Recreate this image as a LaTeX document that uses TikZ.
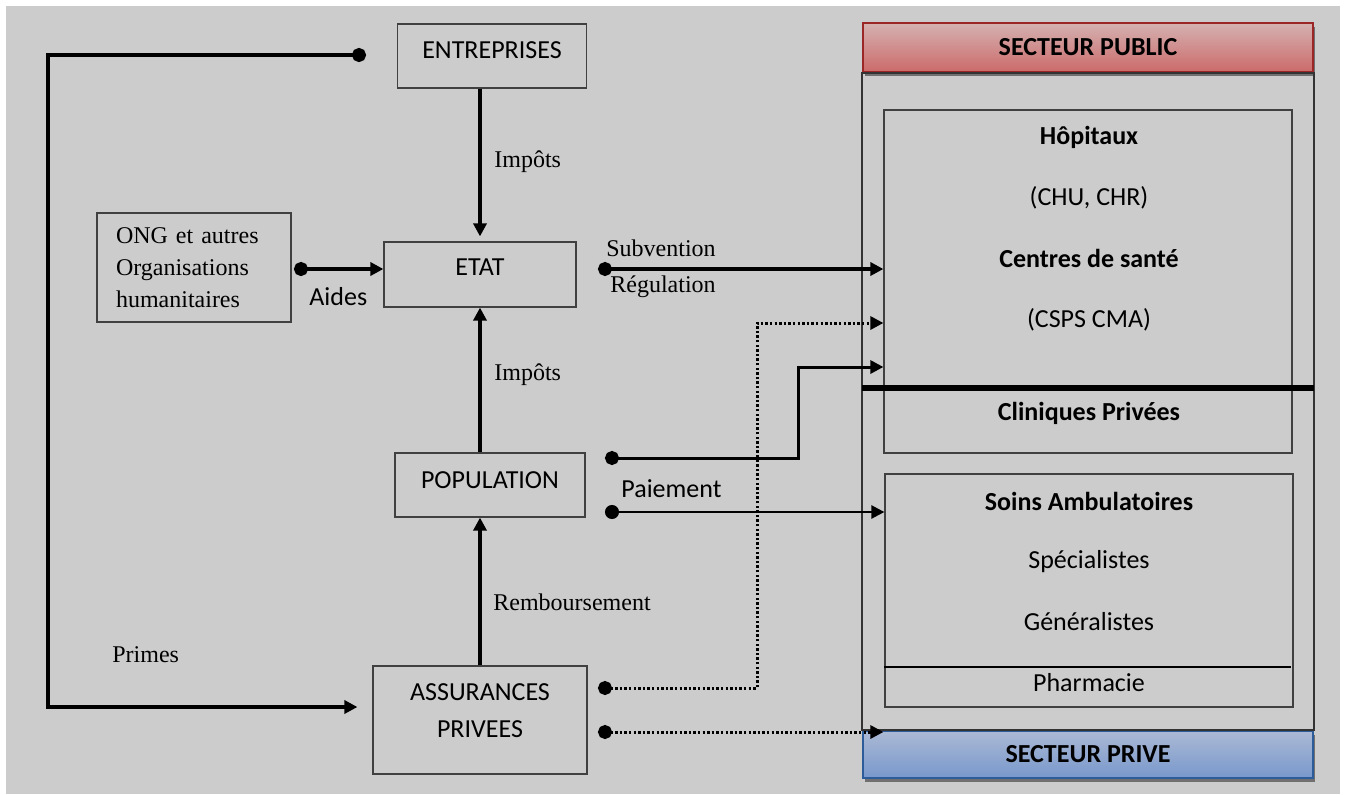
\documentclass[tikz,border=0pt]{standalone}
\usepackage{fontspec}
\setmainfont{Liberation Serif}
\newfontfamily\boxfont{Carlito}
\usetikzlibrary{arrows.meta,shadows}

\definecolor{bggray}{HTML}{CCCCCC}
\definecolor{pubtop}{HTML}{D5B1B1}
\definecolor{pubbot}{HTML}{CC6A6A}
\definecolor{publine}{HTML}{9A2626}
\definecolor{privtop}{HTML}{ABB9D4}
\definecolor{privbot}{HTML}{7898CC}
\definecolor{privline}{HTML}{2D5C9A}

\tikzset{
  actor/.style={draw=black!75, line width=0.6pt, inner sep=0pt, align=center,
    font=\boxfont\fontsize{13}{18.5}\selectfont},
  ong/.style={draw=black!75, line width=0.6pt, inner xsep=9.5pt, inner ysep=0pt,
    text width=78pt, align=left, minimum width=97pt, minimum height=54.5pt,
    font=\fontsize{12}{16}\selectfont},
  lab/.style={inner sep=0pt, anchor=west, font=\fontsize{12}{14}\selectfont},
  sanslab/.style={lab, font=\boxfont\fontsize{13}{15}\selectfont},
  inbox/.style={draw=black!75, line width=0.6pt, inner sep=0pt},
  intext/.style={inner sep=0pt, font=\boxfont\fontsize{13}{15}\selectfont},
  intitle/.style={inner sep=0pt, font=\boxfont\bfseries\fontsize{13}{15}\selectfont},
  sectitle/.style={draw, line width=1pt, inner sep=0pt, minimum width=225pt,
    font=\boxfont\bfseries\fontsize{13}{15}\selectfont,
    drop shadow={shadow xshift=0.8pt, shadow yshift=-2pt, fill=black!60, opacity=0.9}},
  flux/.style={-{Triangle[length=6.5pt,width=6.5pt]}, line width=2pt},
  paid/.style={{Circle[length=7pt]}-{Triangle[length=6.5pt,width=6.5pt]}, line width=1.5pt},
  dotflux/.style={paid, line width=1.5pt, dash pattern=on 1.2pt off 1.1pt},
}

\begin{document}
\begin{tikzpicture}[x=0.5pt, y=-0.5pt]
\useasboundingbox (0,0) rectangle (1345,794);
\fill[white] (0,0) rectangle (1345,794);
\fill[bggray] (6,6) rectangle (1340,794);

% acteurs du financement
\path
(492,56) node[actor, minimum width=94.5pt, minimum height=32pt, text depth=5.5pt](ent) {ENTREPRISES}
(480,274.5) node[actor, minimum width=96pt, minimum height=32.5pt, text depth=7.5pt](etat) {ETAT}
(490,485) node[actor, minimum width=95pt, minimum height=32pt, text depth=5pt](pop) {POPULATION}
(480,720) node[actor, minimum width=107pt, minimum height=54pt, text depth=9.5pt](assur) {ASSURANCES\\PRIVEES}
(194,267.5) node[ong](ong) {ONG et autres\\Organisations\\humanitaires};

% secteur de soins
\path
(1088,47.5) node[sectitle, draw=publine, top color=pubtop, bottom color=pubbot, minimum height=24.5pt](secpub) {SECTEUR PUBLIC}
(1088,754.5) node[sectitle, draw=privline, top color=privtop, bottom color=privbot, minimum height=23.5pt](secpriv) {SECTEUR PRIVE}
(1088,281.5) node[inbox, minimum width=204pt, minimum height=171.5pt](hop) {}
(1089,590.5) node[inbox, minimum width=204pt, minimum height=116.5pt](amb) {};
\draw[black!80, line width=0.8pt] (secpub.south west) rectangle (secpriv.north east);

\coordinate (cut) at (1000,388);
\coordinate (pharmcut) at (1000,667);
\draw[line width=2.6pt] (secpub.west |- cut) -- (secpub.east |- cut);
\draw[line width=1.3pt] (amb.west |- pharmcut) -- ([xshift=-1.5pt]amb.east |- pharmcut);

\path
(1089,137) node[intitle](hoptxt) {Hôpitaux}
(1089,198) node[intext](chu) {(CHU, CHR)}
(1089,258) node[intitle](cstxt) {Centres de santé}
(1089,320) node[intext](csps) {(CSPS CMA)}
(1089,413) node[intitle](clin) {Cliniques Privées}
(1089,501) node[intitle](soins) {Soins Ambulatoires}
(1089,562) node[intext](spec) {Spécialistes}
(1089,622) node[intext](gen) {Généralistes}
(1089,683) node[intext](pharm) {Pharmacie};

%% impots et remboursement
\draw[flux, shorten >=2.5pt] (ent.south -| etat.north) -- (etat.north);
\draw[flux] (pop.north -| etat.south) -- (etat.south);
\draw[flux] (assur.north) -- (assur.north |- pop.south);
\node[lab] (imp1) at (494,162) {Impôts};
\node[lab] (imp2) at (494,375) {Impôts};
\node[lab] (remb) at (493,602) {Remboursement};

%% aides des ONG
\coordinate (ongdot) at (294,269);
\draw[paid, line width=2pt] (ongdot) -- (ongdot -| etat.west);
\node[sanslab] (aides) at (309,297) {Aides};

%% primes
\coordinate (entdot) at (366,55);
\coordinate (loopbas) at (48,707);
\draw[paid, line width=2.2pt, shorten >=7.5pt] (entdot) -| (loopbas) -- (loopbas -| assur.west);
\node[lab] (primes) at (112,655) {Primes};

%% subvention de l'etat
\coordinate (subv) at (598,269);
\draw[paid, line width=1.6pt] (subv) -- (subv -| hop.west);
\node[lab] (subvlab) at (606,248) {Subvention};
\node[lab] (reglab) at (610,287) {Régulation};

%% paiement de la population
\coordinate (popA) at (605,458);
\coordinate (popstep) at (798,367);
\draw[paid] (popA) -| (popstep) -- (popstep -| hop.west);
\coordinate (popB) at (605,512);
\draw[paid, line width=1.2pt] (popB) -- (popB -| amb.west);
\node[sanslab] (paie) at (621,489) {Paiement};

%% assurances privees
\coordinate (asA) at (598,688);
\coordinate (asdot) at (757,323);
\draw[dotflux] (asA) -| (asdot) -- (asdot -| hop.west);
\coordinate (asB) at (598,732);
\draw[dotflux] (asB) -- (asB -| hop.west);

\end{tikzpicture}
\end{document}
